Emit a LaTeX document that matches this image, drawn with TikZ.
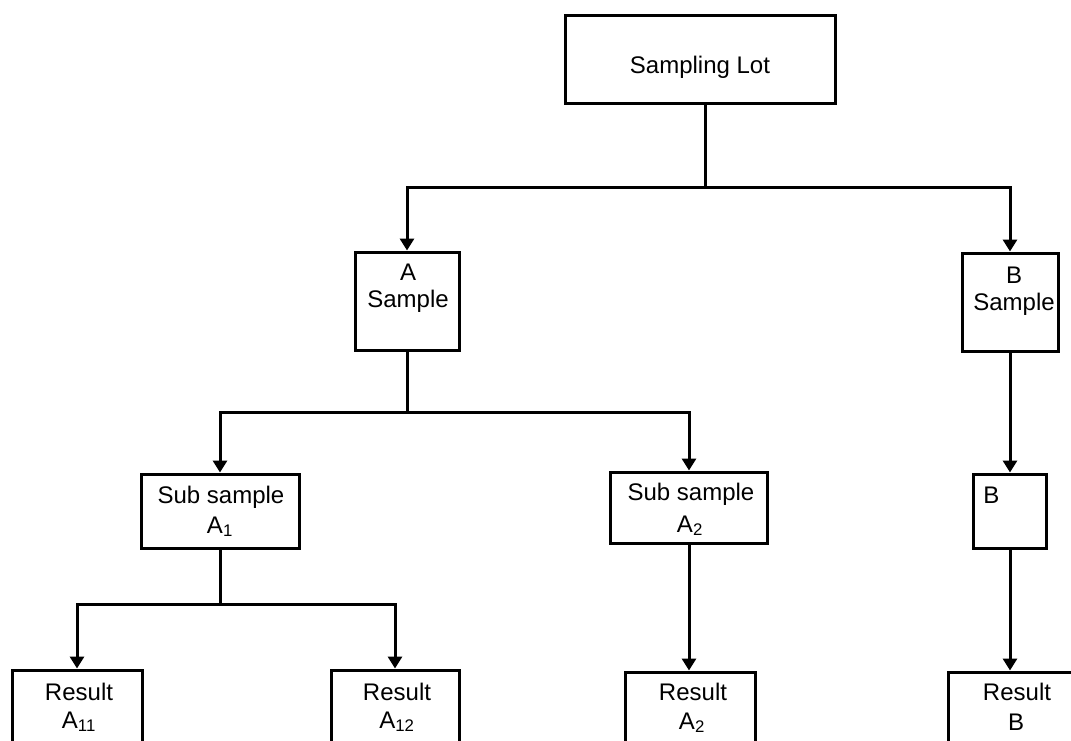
\documentclass[tikz,border=0pt]{standalone}
\usepackage{fontspec}
\setmainfont{Liberation Sans}
\usetikzlibrary{arrows.meta}
\tikzset{
  box/.style={draw=black, line width=2.25pt, inner sep=0pt, fill=white},
  wire/.style={draw=black, line width=2.25pt},
  arr/.style={wire, -{Triangle[length=9pt,width=10.5pt]}},
  lbl/.style={inner sep=0pt, anchor=base, font=\fontsize{18pt}{20pt}\selectfont, text=black}
}
\begin{document}
\begin{tikzpicture}[x=0.75pt, y=-0.75pt]
\useasboundingbox (0,0) rectangle (1071,740);
\clip (0,0) rectangle (1071,740);

% boxes (sizes in px of the drawing grid)
\node[box, minimum width=202.5pt, minimum height=66pt] (lot) at (700,59) {};
\node[box, minimum width=78pt, minimum height=73.5pt] (asmp) at (407,301) {};
\node[box, minimum width=72pt, minimum height=73.5pt] (bsmp) at (1010,302) {};
\node[box, minimum width=118.5pt, minimum height=55.5pt] (a1) at (220,511) {};
\node[box, minimum width=117.75pt, minimum height=53.25pt] (a2) at (689,507.5) {};
\node[box, minimum width=54.75pt, minimum height=55.5pt] (bb) at (1010,511) {};
\node[box, minimum width=97.5pt, minimum height=75pt] (r11) at (77,720) {};
\node[box, minimum width=96pt, minimum height=75pt] (r12) at (395,720) {};
\node[box, minimum width=97.5pt, minimum height=75pt] (r2) at (690,722) {};
\node[box, minimum width=96pt, minimum height=75pt] (rb) at (1012,722) {};

% texts
\node[lbl] (tlot) at (700,73) {Sampling Lot};
\node[lbl] (tasA) at (408,280) {A};
\node[lbl] (tasS) at (408,307) {Sample};
\node[lbl] (tbsB) at (1014,283) {B};
\node[lbl] (tbsS) at (1014,310) {Sample};
\node[lbl] (ta1s) at (221,503) {Sub sample};
\node[lbl] (ta1n) at (220,533) {A\textsubscript{1}};
\node[lbl] (ta2s) at (691,500) {Sub sample};
\node[lbl] (ta2n) at (690,532) {A\textsubscript{2}};
\node[lbl, anchor=base west] (tbb) at (983,503) {B};
\node[lbl] (tr11r) at (79,700) {Result};
\node[lbl] (tr11n) at (79,728) {A\textsubscript{11}};
\node[lbl] (tr12r) at (397,700) {Result};
\node[lbl] (tr12n) at (397,728) {A\textsubscript{12}};
\node[lbl] (tr2r) at (693,700) {Result};
\node[lbl] (tr2n) at (692,729) {A\textsubscript{2}};
\node[lbl] (trbr) at (1017,700) {Result};
\node[lbl] (trbn) at (1016,730) {B};

% junctions
\coordinate (j1) at (705,187);
\coordinate (j2) at (407,412);
\coordinate (j3) at (220,604);

% connectors
\draw[wire] (lot.south -| j1) -- (j1);
\draw[arr] (j1) -| (asmp.north);
\draw[arr] (j1) -| (bsmp.north);

\draw[wire] (asmp.south) -- (j2);
\draw[arr] (j2) -| (a1.north);
\draw[arr] (j2) -| (a2.north);

\draw[arr] (bsmp.south) -- (bb.north);

\draw[wire] (a1.south) -- (j3);
\draw[arr] (j3) -| (r11.north);
\draw[arr] (j3) -| (r12.north);

\draw[arr] (a2.south) -- (a2.south |- r2.north);
\draw[arr] (bb.south) -- (bb.south |- rb.north);
\end{tikzpicture}
\end{document}
